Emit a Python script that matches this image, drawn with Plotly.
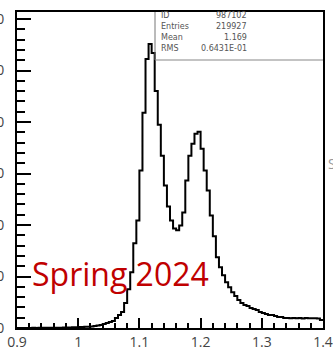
import plotly.graph_objects as go

# ---- data ----
x_min = 0.9
bin_width = 0.005
counts = [2, 3, 2, 4, 3, 5, 4, 6, 5, 7, 8, 8, 10, 12, 14, 16, 18, 22, 26,
          30, 40, 38, 50, 50, 56, 78, 96, 116, 154, 194, 232, 270, 386, 502, 618,
          968, 1508, 2166, 3288, 4178, 6112, 8356, 10444, 11026, 10676, 9206, 7892,
          6692, 5532, 4720, 4178, 3868, 3792, 3984, 4488, 5726, 6692, 7156, 7544,
          7620, 6964, 6112, 5338, 4372, 3560, 2746, 2360, 2050, 1780, 1586, 1392,
          1238, 1084, 968, 890, 852, 774, 736, 696, 618, 580, 542, 502, 502, 464,
          426, 426, 386, 386,
          380, 392, 376, 384, 372, 386, 378, 380, 374, 370, 310]
x_ticks = [0.9, 1.0, 1.1, 1.2, 1.3, 1.4]
x_tick_labels = ["0.9", "1", "1.1", "1.2", "1.3", "1.4"]
y_ticks = [0, 2000, 4000, 6000, 8000, 10000, 12000]
y_tick_labels = ["0", "2000", "4000", "6000", "8000", "10000", "12000"]
stat_names = ["ID", "Entries", "Mean", "RMS"]
stat_values = ["987102", "219927", "1.169", "0.6431E-01"]
label_text = "Spring 2024"

edges = [x_min + i * bin_width for i in range(len(counts) + 1)]
yvals = counts + [counts[-1]]

fig = go.Figure()
fig.add_trace(go.Scatter(x=edges, y=yvals, mode="lines", line_shape="hv",
                         line=dict(color="black", width=2), hoverinfo="skip"))

px_per_unit = 51.5 / 2000.0
y_top = 12272
box_x0 = 1.1255
box_y0 = y_top - 48 / px_per_unit

fig.add_shape(type="line", xref="x", yref="y", x0=box_x0, x1=box_x0, y0=box_y0, y1=y_top,
              line=dict(color="#777777", width=1))
fig.add_shape(type="line", xref="x", yref="y", x0=box_x0, x1=1.4, y0=box_y0, y1=box_y0,
              line=dict(color="#888888", width=1.2))

row_px = 11.0
for k, (n, v) in enumerate(zip(stat_names, stat_values)):
    yy = y_top - (3.5 + k * row_px) / px_per_unit
    fig.add_annotation(x=1.1325, y=yy, xref="x", yref="y", text=n, showarrow=False,
                       xanchor="left", yanchor="middle",
                       font=dict(family="DejaVu Sans", size=8, color="#555555"))
    fig.add_annotation(x=1.279, y=yy, xref="x", yref="y", text=v, showarrow=False,
                       xanchor="right", yanchor="middle",
                       font=dict(family="DejaVu Sans", size=8, color="#555555"))

fig.add_annotation(x=0.9205, y=2117, xref="x", yref="y", text=label_text, showarrow=False,
                   xanchor="left", yanchor="middle",
                   font=dict(family="Open Sans", size=32, color="#c00000"))

fig.add_annotation(x=1.0, y=0.52, xref="paper", yref="paper", text="S", showarrow=False,
                   xanchor="left", xshift=3, yanchor="middle",
                   font=dict(family="Open Sans", size=14, color="#999999"))

fig.update_xaxes(range=[0.9, 1.4], tickvals=x_ticks, ticktext=x_tick_labels,
                 ticks="inside", ticklen=10, tickwidth=1.5, tickcolor="black",
                 minor=dict(dtick=0.02, ticks="inside", ticklen=5, tickwidth=1.5, tickcolor="black"),
                 showline=True, linewidth=2, linecolor="black", mirror=True,
                 showgrid=False, zeroline=False,
                 tickfont=dict(family="Open Sans", size=14, color="#444444"))
fig.update_yaxes(range=[0, y_top], tickvals=y_ticks, ticktext=y_tick_labels,
                 ticks="inside", ticklen=14, tickwidth=2, tickcolor="black",
                 minor=dict(dtick=400, ticks="inside", ticklen=8, tickwidth=1.5, tickcolor="black"),
                 showline=True, linewidth=2, linecolor="black", mirror=True,
                 showgrid=False, zeroline=False, ticklabelstandoff=8,
                 tickfont=dict(family="Open Sans", size=14, color="#444444"))

fig.update_layout(width=333, height=351, margin=dict(l=17, r=10, t=12, b=23, autoexpand=False),
                  plot_bgcolor="white", paper_bgcolor="white", showlegend=False)

fig.write_html("out.html")
